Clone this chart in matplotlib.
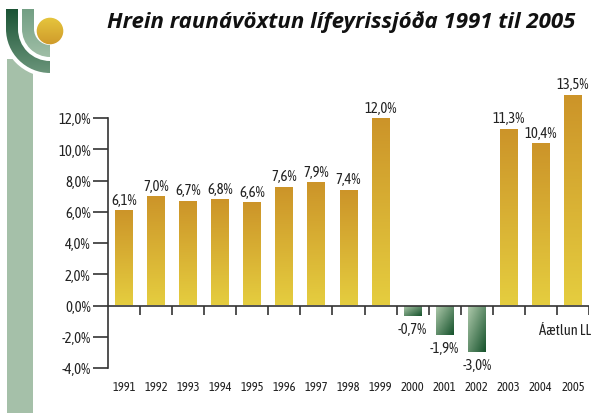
import numpy as np
import matplotlib
matplotlib.use('Agg')
import matplotlib.pyplot as plt
from matplotlib.patches import Wedge, Rectangle, Circle
from matplotlib.colors import to_rgb

plt.rcParams['font.family'] = ['Asap Condensed', 'DejaVu Sans']

years = ['1991', '1992', '1993', '1994', '1995', '1996', '1997', '1998',
         '1999', '2000', '2001', '2002', '2003', '2004', '2005']
values = [6.1, 7.0, 6.7, 6.8, 6.6, 7.6, 7.9, 7.4, 12.0, -0.7, -1.9, -3.0, 11.3, 10.4, 13.5]
value_labels = ['6,1%', '7,0%', '6,7%', '6,8%', '6,6%', '7,6%', '7,9%', '7,4%', '12,0%',
                '-0,7%', '-1,9%', '-3,0%', '11,3%', '10,4%', '13,5%']
ytick_values = [-4, -2, 0, 2, 4, 6, 8, 10, 12]
ytick_labels = ['-4,0%', '-2,0%', '0,0%', '2,0%', '4,0%', '6,0%', '8,0%', '10,0%', '12,0%']
title = 'Hrein raunávöxtun lífeyrissjóða 1991 til 2005'
note = 'Áætlun LL'

W, H = 611, 414
fig = plt.figure(figsize=(W / 100, H / 100), dpi=100)


def gradient(ax, extent, c1, c2, mode, clip, zorder):
    n = 64
    a = np.array(to_rgb(c1))
    b = np.array(to_rgb(c2))
    u = np.linspace(0, 1, n)
    if mode == 'v':
        t = np.tile(u[:, None], (1, n))
    else:
        t = (u[:, None] + u[None, :]) / 2
    img = a + (b - a) * t[..., None]
    im = ax.imshow(img, extent=extent, origin='upper', aspect='auto',
                   interpolation='bilinear', zorder=zorder)
    im.set_clip_path(clip)
    return im


# ---- logo / decoration overlay (figure pixel coords) ----
oax = fig.add_axes([0, 0, 1, 1], zorder=0)
oax.axis('off')
sage = Rectangle((7, 60), 26, 400, facecolor='#a5c0a9', edgecolor='none', zorder=1)
oax.add_patch(sage)
oax.add_patch(Wedge((50, 30), 48, 90, 180, facecolor='white', edgecolor='none', zorder=2))
outer_w = Wedge((50, 30), 44, 90, 180, width=12, facecolor='none', edgecolor='none')
outer_r = Rectangle((6, 10), 12, 20.5, facecolor='none', edgecolor='none')
inner_w = Wedge((50, 30), 28, 90, 180, width=12, facecolor='none', edgecolor='none')
inner_r = Rectangle((22, 10), 12, 20.5, facecolor='none', edgecolor='none')
for p in (outer_w, outer_r, inner_w, inner_r):
    oax.add_patch(p)
gradient(oax, (6, 50, 74, 10), '#1b5335', '#6a957a', 'v', outer_w, 3)
gradient(oax, (6, 50, 74, 10), '#1b5335', '#6a957a', 'v', outer_r, 3)
gradient(oax, (22, 50, 58, 10), '#739f84', '#9fbea6', 'v', inner_w, 3)
gradient(oax, (22, 50, 58, 10), '#739f84', '#9fbea6', 'v', inner_r, 3)
sun = Circle((50, 32), 13.3, facecolor='none', edgecolor='none')
oax.add_patch(sun)
gradient(oax, (36, 64, 46, 18), '#e6c63d', '#cf9a2b', 'v', sun, 4)
oax.set_xlim(0, W)
oax.set_ylim(H, 0)

fig.text(341 / W, 1 - 22 / H, title, ha='center', va='center', fontsize=16,
         fontweight='bold', fontstyle='italic', family=['Open Sans', 'DejaVu Sans'],
         color='#111111')

# ---- main chart ----
ax = fig.add_axes([108 / W, 1 - 369 / H, (589 - 108) / W, (369 - 119) / H], zorder=2)
ax.patch.set_alpha(0)
x = np.arange(len(years))
bars = ax.bar(x, values, width=0.56, color='none', edgecolor='none', zorder=2)
for b, v in zip(bars, values):
    x0, w = b.get_x(), b.get_width()
    if v >= 0:
        gradient(ax, (x0, x0 + w, 0, v), '#cc9429', '#e5cd3f', 'v', b, 2)
    else:
        gradient(ax, (x0, x0 + w, v, 0), '#b0cbad', '#15522b', 'd', b, 2)

for xi, v, lab in zip(x, values, value_labels):
    if v >= 0:
        ax.annotate(lab, (xi, v), xytext=(0, 2.5), textcoords='offset points',
                    ha='center', va='bottom', fontsize=10.5, color='#222222',
                    annotation_clip=False)
    else:
        ax.annotate(lab, (xi, v), xytext=(0, -4), textcoords='offset points',
                    ha='center', va='top', fontsize=10.5, color='#222222',
                    annotation_clip=False)

ax.axhline(0, color='#333333', lw=1.2, zorder=3)
ax.vlines(np.arange(0.5, len(years), 1), -0.58, 0, color='#333333', lw=1.2, zorder=3)

ax.set_xlim(-0.5, len(years) - 0.5)
ax.set_ylim(-4, 12)
for s in ('top', 'right', 'bottom'):
    ax.spines[s].set_visible(False)
ax.spines['left'].set_color('#333333')
ax.spines['left'].set_linewidth(1.2)
ax.set_yticks(ytick_values, ytick_labels)
ax.tick_params(axis='y', length=10.5, width=1.2, color='#333333', pad=2,
               labelsize=10.5, labelcolor='#222222')
ax.set_xticks(x, years)
ax.tick_params(axis='x', length=0, pad=9, labelsize=9, labelcolor='#222222')

ax.text(14.55, -1.6, note, ha='right', va='center', fontsize=10.5, color='#222222')

fig.savefig('out.png', dpi=100)
